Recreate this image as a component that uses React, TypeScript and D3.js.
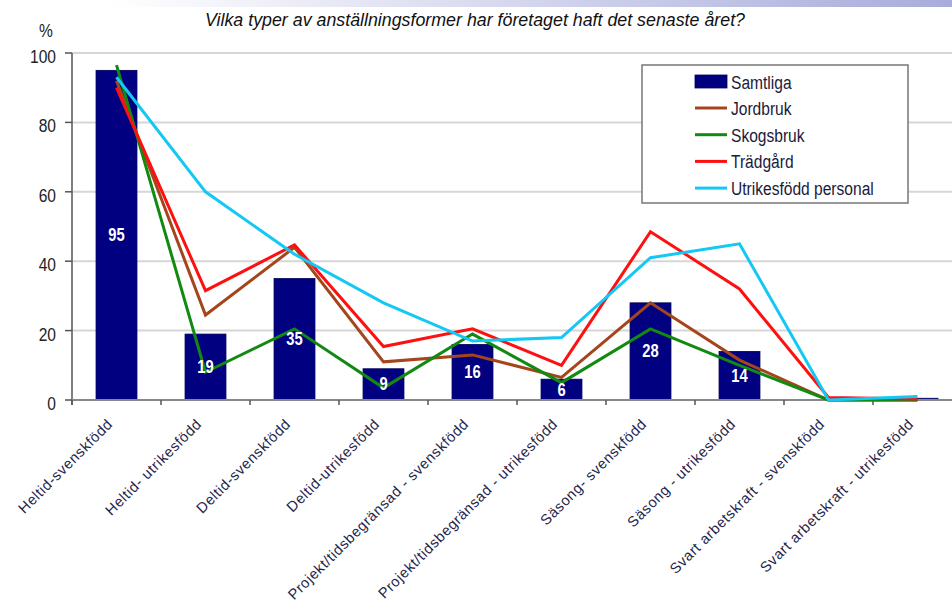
import React from 'react';
import * as d3 from 'd3';

const categories = [
  'Heltid-svenskfödd',
  'Heltid- utrikesfödd',
  'Deltid-svenskfödd',
  'Deltid-utrikesfödd',
  'Projekt/tidsbegränsad - svenskfödd',
  'Projekt/tidsbegränsad - utrikesfödd',
  'Säsong- svenskfödd',
  'Säsong - utrikesfödd',
  'Svart arbetskraft - svenskfödd',
  'Svart arbetskraft - utrikesfödd',
];
const samtliga = [95, 19, 35, 9, 16, 6, 28, 14, 0, 0.5];
const jordbruk = [92, 24.5, 44, 11, 13, 6.5, 28, 11.5, 0, 0];
const skogsbruk = [96.5, 8, 20.5, 3.5, 19, 5, 20.5, 10, 0, 0];
const tradgard = [90, 31.5, 44.7, 15.4, 20.5, 10, 48.5, 32, 0.7, 0.3];
const utrikes = [93, 60, 42, 28, 17, 18, 41, 45, 0, 1];
const yTicks = [0, 20, 40, 60, 80, 100];

const title = 'Vilka typer av anställningsformer har företaget haft det senaste året?';

const lineSeries = [
  { name: 'Jordbruk', values: jordbruk, color: '#a5451c' },
  { name: 'Skogsbruk', values: skogsbruk, color: '#128a12' },
  { name: 'Trädgård', values: tradgard, color: '#ff1010' },
  { name: 'Utrikesfödd personal', values: utrikes, color: '#14c8f4' },
];

const FONT = "'Liberation Sans', Arial, sans-serif";

function NText(props: {
  x: number;
  y: number;
  sx?: number;
  size: number;
  anchor?: 'start' | 'middle' | 'end';
  fill?: string;
  weight?: string;
  italic?: boolean;
  children: React.ReactNode;
}) {
  const { x, y, sx = 0.82, size, anchor = 'start', fill = '#222', weight, italic } = props;
  return (
    <text
      transform={`translate(${x},${y}) scale(${sx},1)`}
      textAnchor={anchor}
      fontFamily={FONT}
      fontSize={size}
      fontWeight={weight}
      fontStyle={italic ? 'italic' : undefined}
      fill={fill}
    >
      {props.children}
    </text>
  );
}

export default function App() {
  const W = 952;
  const H = 610;
  const x = d3.scaleBand<string>().domain(categories).range([72, 962]).padding(0);
  const y = d3.scaleLinear().domain([0, 100]).range([400, 53]);
  const bw = x.bandwidth();
  const cx = (c: string) => (x(c) as number) + bw / 2;
  const line = d3
    .line<number>()
    .x((_, i) => cx(categories[i]))
    .y((d) => y(d));

  return (
    <svg
      width={W}
      height={H}
      style={{ position: 'absolute', left: 0, top: 0, background: '#fff' }}
    >
      <defs>
        <linearGradient id="topg" x1="0" x2="1" y1="0" y2="0">
          <stop offset="0" stopColor="#ffffff" />
          <stop offset="1" stopColor="#a7acdb" />
        </linearGradient>
      </defs>
      <rect x={110} y={0} width={842} height={7} fill="url(#topg)" />

      {/* title */}
      <text
        x={475}
        y={26}
        textAnchor="middle"
        fontFamily={FONT}
        fontStyle="italic"
        fontSize={18}
        fill="#111"
        textLength={540}
        lengthAdjust="spacingAndGlyphs"
      >
        {title}
      </text>
      <NText x={46} y={37} size={19} anchor="middle">
        %
      </NText>

      {/* gridlines */}
      {yTicks.filter((t) => t > 0).map((t) => (
        <line key={t} x1={72} x2={W} y1={y(t)} y2={y(t)} stroke="#d6d6d6" strokeWidth={2} />
      ))}

      {/* y axis */}
      <line x1={72} x2={72} y1={y(100)} y2={y(0) + 5} stroke="#555" strokeWidth={1.5} />
      {yTicks.map((t) => (
        <g key={t}>
          <line x1={65} x2={72} y1={y(t)} y2={y(t)} stroke="#555" strokeWidth={1.5} />
          <NText x={56} y={y(t) + 10} size={19} anchor="end">
            {t}
          </NText>
        </g>
      ))}

      {/* bars */}
      {categories.map((c, i) => (
        <rect
          key={c}
          x={cx(c) - bw * 0.23}
          width={bw * 0.46}
          y={y(samtliga[i])}
          height={y(0) - y(samtliga[i])}
          fill="#000080"
          stroke="#00005a"
          strokeWidth={0.8}
        />
      ))}

      {/* x axis */}
      <line x1={72} x2={W} y1={y(0)} y2={y(0)} stroke="#888" strokeWidth={2} />
      {categories.map((c) => (
        <line
          key={c}
          x1={x(c) as number}
          x2={x(c) as number}
          y1={y(0)}
          y2={y(0) + 5}
          stroke="#555"
          strokeWidth={1.5}
        />
      ))}

      {/* lines */}
      {lineSeries.map((s) => (
        <path
          key={s.name}
          d={line(s.values) as string}
          fill="none"
          stroke={s.color}
          strokeWidth={3}
          strokeLinejoin="miter"
        />
      ))}

      {/* bar labels */}
      {categories.map((c, i) =>
        samtliga[i] >= 1 ? (
          <NText
            key={c}
            x={cx(c)}
            y={(y(samtliga[i]) + y(0)) / 2 + 6}
            size={18}
            anchor="middle"
            weight="bold"
            fill="#fff"
          >
            {Math.round(samtliga[i])}
          </NText>
        ) : null
      )}

      {/* x labels */}
      {categories.map((c) => (
        <text
          key={c}
          transform={`translate(${cx(c) - 3},${y(0) + 25}) rotate(-45)`}
          textAnchor="end"
          fontFamily={FONT}
          fontSize={14.6}
          letterSpacing={0.6}
          fill="#24244a"
        >
          {c}
        </text>
      ))}

      {/* legend */}
      <rect x={642} y={65} width={266} height={138} fill="#fff" stroke="#777" strokeWidth={1.5} />
      <rect x={695} y={75} width={32} height={13} fill="#000080" stroke="#00005a" strokeWidth={0.8} />
      <NText x={731} y={89} size={19} fill="#1a1a3a">
        Samtliga
      </NText>
      {lineSeries.map((s, i) => {
        const ly = 108 + i * 26.7;
        return (
          <g key={s.name}>
            <line x1={695} x2={727} y1={ly} y2={ly} stroke={s.color} strokeWidth={3} />
            <NText x={731} y={ly + 7} size={19} fill="#1a1a3a">
              {s.name}
            </NText>
          </g>
        );
      })}
    </svg>
  );
}
